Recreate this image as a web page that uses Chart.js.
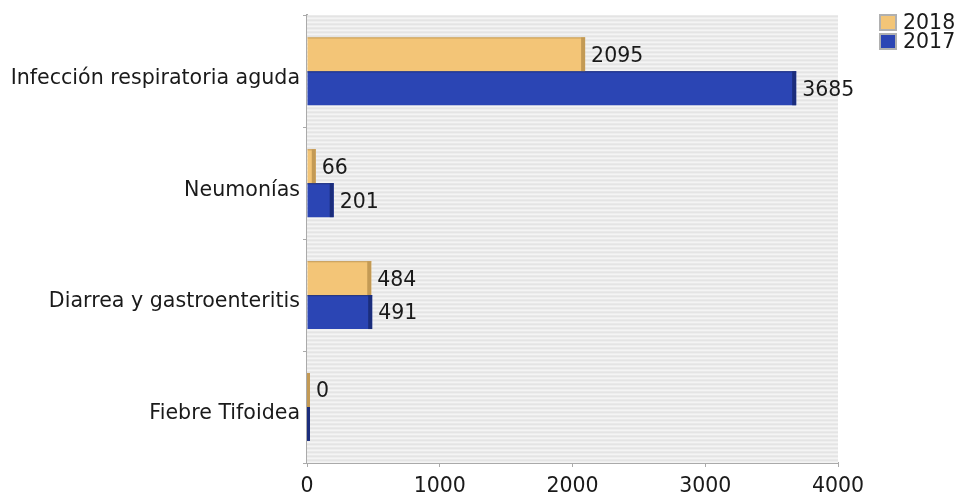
<!DOCTYPE html>
<html>
<head>
<meta charset="utf-8">
<script src="https://cdn.jsdelivr.net/npm/chart.js@4.4.1/dist/chart.umd.min.js"></script>
<style>
  html, body { margin: 0; padding: 0; background: #fff; }
  #wrap { width: 957px; height: 496px; }
</style>
</head>
<body>
<div id="wrap"><canvas id="barChart" width="957" height="496"></canvas></div>
<script>
const categories = ["Infección respiratoria aguda", "Neumonías", "Diarrea y gastroenteritis", "Fiebre Tifoidea"];
const values2018 = [2095, 66, 484, 0];
const values2017 = [3685, 201, 491, 0];
const xTicks = [0, 1000, 2000, 3000, 4000];

const FONT = "'DejaVu Sans', sans-serif";
const ctx = document.getElementById("barChart");

// striped plot background
const stripes = {
  id: "stripes",
  beforeDatasetsDraw(chart) {
    const { ctx, chartArea: a } = chart;
    ctx.save();
    ctx.fillStyle = "#f4f4f4";
    ctx.fillRect(a.left, a.top, a.right - a.left, a.bottom - a.top);
    ctx.fillStyle = "#e4e4e4";
    for (let y = a.top; y < a.bottom; y += 4) {
      ctx.fillRect(a.left, y, a.right - a.left, 2);
    }
    ctx.restore();
  },
};

// darker right edge + top line, then value labels
const barDecor = {
  id: "barDecor",
  afterDatasetsDraw(chart) {
    const { ctx } = chart;
    ctx.save();
    chart.data.datasets.forEach((ds, i) => {
      const meta = chart.getDatasetMeta(i);
      meta.data.forEach((bar, j) => {
        const top = bar.y - bar.height / 2;
        const end = Math.max(bar.x, bar.base + 3);
        const start = Math.max(bar.base, end - 4);
        ctx.fillStyle = ds.edgeColor;
        ctx.fillRect(start, top, end - start, bar.height);
        ctx.fillRect(bar.base, top, end - bar.base, 1);
        const v = ds.data[j];
        if (i === 1 && v === 0) return;
        ctx.fillStyle = "#1a1a1a";
        ctx.font = "20.5px " + FONT;
        ctx.textAlign = "left";
        ctx.textBaseline = "middle";
        ctx.fillText(String(v), end + 6, bar.y + 2);
      });
    });
    ctx.restore();
  },
};

// legend in the top right corner
const cornerLegend = {
  id: "cornerLegend",
  afterDraw(chart) {
    const { ctx } = chart;
    ctx.save();
    chart.data.datasets.forEach((ds, i) => {
      const y = 14 + i * 19;
      ctx.fillStyle = "#b0b0b0";
      ctx.fillRect(879, y, 18, 17);
      ctx.fillStyle = ds.backgroundColor;
      ctx.fillRect(881, y + 2, 14, 13);
      ctx.fillStyle = "#1a1a1a";
      ctx.font = "20.5px " + FONT;
      ctx.textAlign = "left";
      ctx.textBaseline = "middle";
      ctx.fillText(ds.label, 903, y + 10);
    });
    ctx.restore();
  },
};

new Chart(ctx, {
  type: "bar",
  data: {
    labels: categories,
    datasets: [
      { label: "2018", data: values2018, backgroundColor: "#f3c577", edgeColor: "#c39a55" },
      { label: "2017", data: values2017, backgroundColor: "#2b45b4", edgeColor: "#1b2d7c" },
    ],
  },
  options: {
    indexAxis: "y",
    responsive: false,
    animation: false,
    categoryPercentage: 0.606,
    barPercentage: 1.0,
    layout: { padding: { top: 13, right: 119, bottom: 0, left: 0 } },
    plugins: {
      legend: { display: false },
      tooltip: { enabled: false },
    },
    scales: {
      x: {
        min: 0,
        max: 4000,
        afterBuildTicks: (s) => { s.ticks = xTicks.map((v) => ({ value: v })); },
        afterFit: (s) => { s.height = 33; },
        grid: { drawOnChartArea: false, tickLength: 4, color: "#aaaaaa" },
        border: { color: "#aaaaaa", width: 2 },
        ticks: {
          color: "#1a1a1a",
          font: { family: FONT, size: 20.5 },
          padding: 7,
          callback: (v) => String(v),
        },
      },
      y: {
        afterFit: (s) => { s.width = 307; },
        grid: { drawOnChartArea: false, offset: true, tickLength: 4, color: "#aaaaaa" },
        border: { color: "#aaaaaa", width: 2 },
        ticks: { color: "#1a1a1a", font: { family: FONT, size: 20.6 }, padding: 3, labelOffset: 7 },
      },
    },
  },
  plugins: [stripes, barDecor, cornerLegend],
});
</script>
</body>
</html>
